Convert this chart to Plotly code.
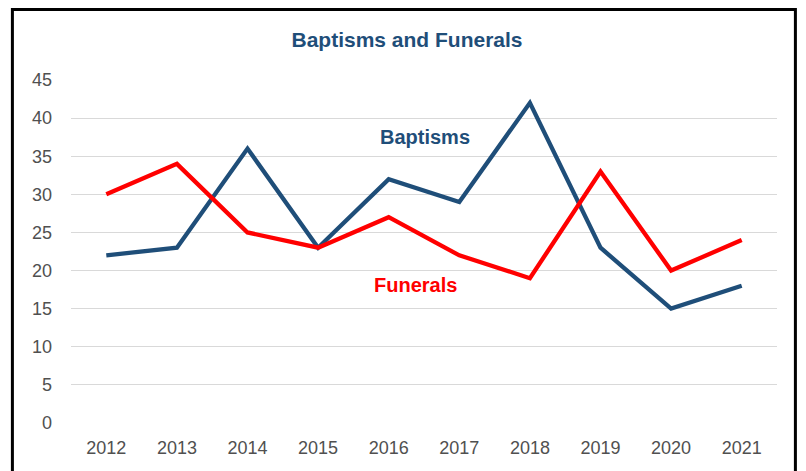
import plotly.graph_objects as go

years = ["2012", "2013", "2014", "2015", "2016", "2017", "2018", "2019", "2020", "2021"]
baptisms = [22, 23, 36, 23, 32, 29, 42, 23, 15, 18]
funerals = [30, 34, 25, 23, 27, 22, 19, 33, 20, 24]

blue = "#1F4E79"
red = "#FF0000"
font = "Liberation Sans"

fig = go.Figure()
fig.add_trace(go.Scatter(x=years, y=baptisms, mode="lines", name="Baptisms",
                         line=dict(color=blue, width=4.3)))
fig.add_trace(go.Scatter(x=years, y=funerals, mode="lines", name="Funerals",
                         line=dict(color=red, width=4.3)))

# page has an 8px body offset
OFF = 8
W, H = 798, 463
L, T = 70.6 - OFF, 80 - OFF
pw, ph = 706, 343
R, B = W - L - pw, H - T - ph

def px_x(p):
    return (p - OFF - L) / pw

def px_y(p):
    return (H - B - (p - OFF)) / ph

fig.update_layout(
    width=W, height=H,
    margin=dict(l=L, r=R, t=T, b=B, pad=0),
    paper_bgcolor="white", plot_bgcolor="white",
    showlegend=False,
    title=dict(text="<b>Baptisms and Funerals</b>", x=0.5, xanchor="center",
               y=1 - (40 - OFF) / H, yanchor="middle",
               font=dict(family=font, size=21, color=blue)),
    font=dict(family=font, size=18, color="#505050"),
    xaxis=dict(type="category", range=[-0.5, 9.5], showgrid=False, zeroline=False,
               showline=False, ticks="", ticklen=0, ticklabelstandoff=12,
               tickfont=dict(size=18, color="#505050")),
    yaxis=dict(range=[0, 45], dtick=5, showgrid=True, gridcolor="#D9D9D9", gridwidth=1.3,
               zeroline=False, showline=False, ticks="", ticklabelstandoff=18,
               tickfont=dict(size=18, color="#505050")),
    annotations=[
        dict(x=4.52, y=37.5, xref="x", yref="y", text="<b>Baptisms</b>", showarrow=False,
             font=dict(family=font, size=20, color=blue)),
        dict(x=4.38, y=18.1, xref="x", yref="y", text="<b>Funerals</b>", showarrow=False,
             font=dict(family=font, size=20, color=red)),
    ],
    shapes=[
        dict(type="rect", xref="paper", yref="paper",
             x0=px_x(12), x1=px_x(795), y0=px_y(490), y1=px_y(OFF + 1.5),
             line=dict(color="black", width=3), fillcolor="rgba(0,0,0,0)", layer="above"),
    ],
)

fig.write_html("out.html")
